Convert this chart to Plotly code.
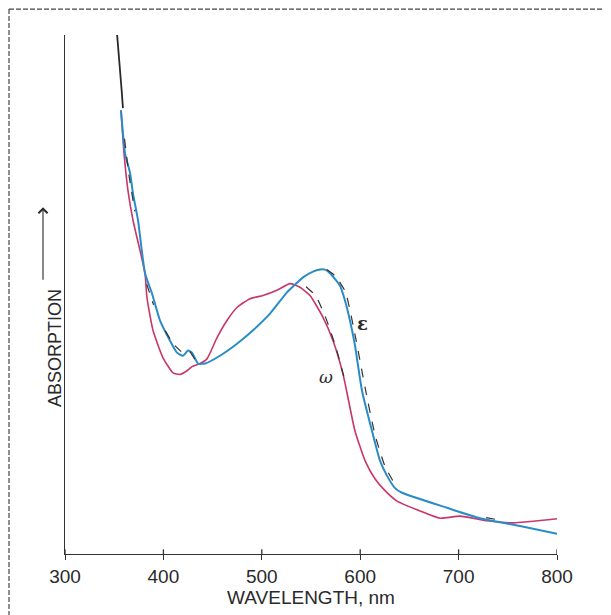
import plotly.graph_objects as go

# ---- data (wavelength nm, relative absorption 0..1) ----
top_wl = [352.8, 354.5, 355.9, 357.5, 358.9]
top_abs = [1.004, 0.97, 0.932, 0.895, 0.859]

eps_wl = [356.9, 361.0, 366.1, 369.1, 374.2, 381.3, 388.4, 396.5, 406.7, 413.8,
          419.9, 425.0, 429.1, 435.2, 442.3, 457.5, 474.8, 491.1, 508.3, 525.6,
          541.9, 552.0, 559.1, 564.2, 569.3, 579.5, 584.6, 589.6, 594.7, 601.8, 612.0,
          620.1, 627.2, 635.4, 642.5, 688.2, 721.7, 762.4, 800.0]
eps_abs = [0.855, 0.772, 0.734, 0.695, 0.643, 0.541, 0.502, 0.450, 0.411, 0.388,
           0.382, 0.392, 0.388, 0.367, 0.367, 0.382, 0.405, 0.431, 0.463, 0.504,
           0.533, 0.544, 0.548, 0.548, 0.541, 0.517, 0.488, 0.450, 0.402, 0.315, 0.237,
           0.180, 0.151, 0.127, 0.118, 0.089, 0.069, 0.054, 0.039]

omg_wl = [356.9, 360.0, 364.0, 369.1, 376.2, 381.3, 383.3, 389.4, 399.6, 409.8,
          416.9, 424.0, 429.1, 437.2, 444.3, 454.5, 464.6, 474.8, 488.0, 501.2,
          515.4, 528.7, 538.8, 549.0, 562.2, 572.4, 582.5, 587.6, 594.7, 604.9,
          615.0, 625.2, 637.4, 660.8, 681.1, 701.4, 728.9, 755.3, 800.0]
omg_abs = [0.855, 0.772, 0.700, 0.643, 0.585, 0.541, 0.494, 0.431, 0.378, 0.349,
           0.346, 0.353, 0.361, 0.367, 0.376, 0.417, 0.450, 0.475, 0.492, 0.498,
           0.508, 0.521, 0.514, 0.498, 0.456, 0.411, 0.347, 0.301, 0.237, 0.180,
           0.145, 0.122, 0.102, 0.083, 0.069, 0.073, 0.064, 0.060, 0.068]

# dashed (original) curve fragments, None = gap
dash_wl = [360.5, 365.0, 371.0, None, 383.0, 390.0, None, 402.0, 410.0, 418.0, None,
           427.0, 432.0, None, 545.0, 555.0, 565.0, 575.0, 585.0, None,
           566.0, 575.0, 585.0, 595.0, 605.0, 615.0, 625.0, 635.0, None,
           728.0, 740.0]
dash_abs = [0.80, 0.73, 0.66, None, 0.52, 0.48, None, 0.43, 0.405, 0.39, None,
            0.39, 0.375, None, 0.515, 0.497, 0.455, 0.40, 0.33, None,
            0.548, 0.535, 0.505, 0.42, 0.32, 0.23, 0.17, 0.135, None,
            0.070, 0.066]

x_ticks = [300, 400, 500, 600, 700, 800]

RED = "#c8366a"
BLUE = "#2a8cc6"
INK = "#2a2a2a"

fig = go.Figure()
fig.add_trace(go.Scatter(x=omg_wl, y=omg_abs, mode="lines", line=dict(color=RED, width=1.6, shape="spline", smoothing=0.5), showlegend=False))
fig.add_trace(go.Scatter(x=eps_wl, y=eps_abs, mode="lines", line=dict(color=BLUE, width=2, shape="spline", smoothing=0.5), showlegend=False))
fig.add_trace(go.Scatter(x=dash_wl, y=dash_abs, mode="lines", connectgaps=False,
                         line=dict(color="#333333", width=1.2, dash="dash", shape="spline", smoothing=0.5), showlegend=False))
fig.add_trace(go.Scatter(x=top_wl, y=top_abs, mode="lines", line=dict(color=INK, width=1.8), showlegend=False))

fig.add_annotation(x=602, y=0.444, text="<b>ε</b>", showarrow=False, font=dict(size=18, color=INK, family="DejaVu Serif"))
fig.add_annotation(x=565, y=0.341, text="<i>ω</i>", showarrow=False, font=dict(size=17, color=INK, family="DejaVu Serif"))

# y-axis label with a long upward arrow
fig.add_annotation(xref="paper", yref="paper", x=-0.0447, y=0.397, text="ABSORPTION", textangle=-90,
                   showarrow=False, font=dict(size=18, color=INK, family="Liberation Sans"))
fig.add_annotation(xref="paper", yref="paper", axref="pixel", ayref="pixel",
                   x=-0.0447, y=0.668, ax=0, ay=74, text="", showarrow=True,
                   arrowhead=4, arrowsize=1.6, arrowwidth=1.1, arrowcolor=INK)

# scanned figure frame: dashed top and left border
fig.add_shape(type="line", xref="paper", yref="paper", x0=-0.1138, x1=1.12, y0=1.050, y1=1.050,
              line=dict(color="#444444", width=1.2, dash="5px,2px"))
fig.add_shape(type="line", xref="paper", yref="paper", x0=-0.1138, x1=-0.1138, y0=1.050, y1=-0.13,
              line=dict(color="#444444", width=1.2, dash="5px,2px"))

# inner half of the crossing tick marks
for tv in x_ticks:
    fig.add_shape(type="line", xref="x", yref="paper", x0=tv, x1=tv, y0=0, y1=0.009,
                  line=dict(color="#333333", width=1.3))

fig.update_layout(
    width=603, height=607,
    margin=dict(l=57, r=54, t=27, b=59),
    plot_bgcolor="white", paper_bgcolor="white",
    font=dict(family="Liberation Sans", size=19, color=INK),
    xaxis=dict(range=[300, 800], tickvals=x_ticks, ticktext=[str(v) for v in x_ticks],
               showline=True, linecolor="#333333", linewidth=1.3, ticks="outside", ticklen=5,
               tickcolor="#333333", showgrid=False, zeroline=False, ticklabelstandoff=0,
               title=dict(text="WAVELENGTH, nm", font=dict(size=19), standoff=3),
               tickfont=dict(size=19)),
    yaxis=dict(range=[0, 1.0], showline=True, linecolor="#333333", linewidth=1.3,
               showticklabels=False, ticks="", showgrid=False, zeroline=False),
)

fig.write_html("out.html")
